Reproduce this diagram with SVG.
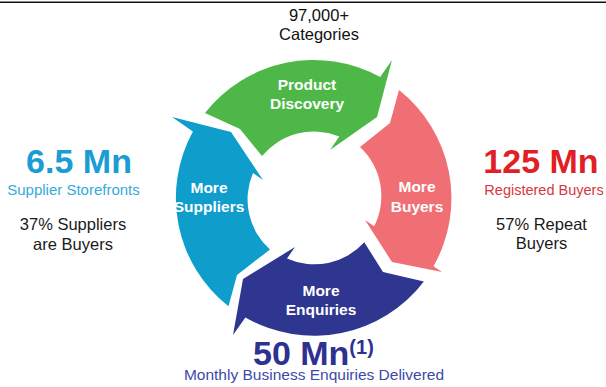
<svg xmlns="http://www.w3.org/2000/svg" width="606" height="387" viewBox="0 0 606 387">
  <style>
    text { font-family: "Liberation Sans", Arial, sans-serif; text-anchor: middle; }
    .seg-label { fill: #ffffff; font-weight: bold; font-size: 15.5px; }
    .big { font-weight: bold; font-size: 34px; }
    .sub { font-size: 15px; }
    .note { fill: #1a1a1a; font-size: 16.5px; }
  </style>

  <!-- rule along the top edge -->
  <line x1="0" y1="2.2" x2="606" y2="2.2" stroke="#111111" stroke-width="1.6"/>

  <!-- cycle ring, centre (314,198), radii 67 / 138 -->
  <g id="product-discovery">
    <path fill="#4db848" d="M205,113 A138,138 0 0 1 380.2,77.1 L392,60 L377,117 L330,150 L339.3,136.5 A67,67 0 0 0 262,156 L240,129 Z"/>
    <text class="seg-label" x="307" y="90">Product</text>
    <text class="seg-label" x="307" y="109">Discovery</text>
  </g>

  <g id="more-buyers">
    <path fill="#ef6f74" d="M399,90 A138,138 0 0 1 433.5,266.3 L442,272 L392,262 L365,220 L374.2,226.2 A67,67 0 0 0 360,147 L390,123 Z"/>
    <text class="seg-label" x="417" y="192">More</text>
    <text class="seg-label" x="417" y="212">Buyers</text>
  </g>

  <g id="more-enquiries">
    <path fill="#2f3690" d="M423.9,281.4 A138,138 0 0 1 245.4,317.4 L233,335 L243,279 L295,247 L287,258.4 A67,67 0 0 0 364.3,242.3 L383,272 Z"/>
    <text class="seg-label" x="321" y="296">More</text>
    <text class="seg-label" x="321" y="315">Enquiries</text>
  </g>

  <g id="more-suppliers">
    <path fill="#0f9dcc" d="M228.5,306.3 A138,138 0 0 1 192.9,131.5 L172,117 L231,132 L263,180 L253,173 A67,67 0 0 0 270,249.5 L237,275 Z"/>
    <text class="seg-label" x="209" y="193">More</text>
    <text class="seg-label" x="209" y="212">Suppliers</text>
  </g>

  <!-- figures around the ring -->
  <g id="categories">
    <text x="319" y="21" fill="#111111" font-size="16.5px">97,000+</text>
    <text x="319" y="40" fill="#111111" font-size="16.5px">Categories</text>
  </g>

  <g id="suppliers-stats">
    <text class="big" x="79" y="173" fill="#1a9dd4">6.5 Mn</text>
    <text class="sub" x="73.5" y="195" fill="#35aadb">Supplier Storefronts</text>
    <text class="note" x="73" y="230">37% Suppliers</text>
    <text class="note" x="73" y="250">are Buyers</text>
  </g>

  <g id="buyers-stats">
    <text class="big" x="541" y="173" fill="#e11f26">125 Mn</text>
    <text x="544" y="195" fill="#d9363d" font-size="14.5px">Registered Buyers</text>
    <text class="note" x="541.5" y="230">57% Repeat</text>
    <text class="note" x="541.5" y="249">Buyers</text>
  </g>

  <g id="enquiries-stats">
    <text class="big" x="253" y="365" fill="#2e3192" style="text-anchor:start">50 Mn<tspan font-size="20px" dy="-11">(1)</tspan></text>
    <text x="314" y="380" fill="#3d4aa8" font-size="15.5px">Monthly Business Enquiries Delivered</text>
  </g>
</svg>
